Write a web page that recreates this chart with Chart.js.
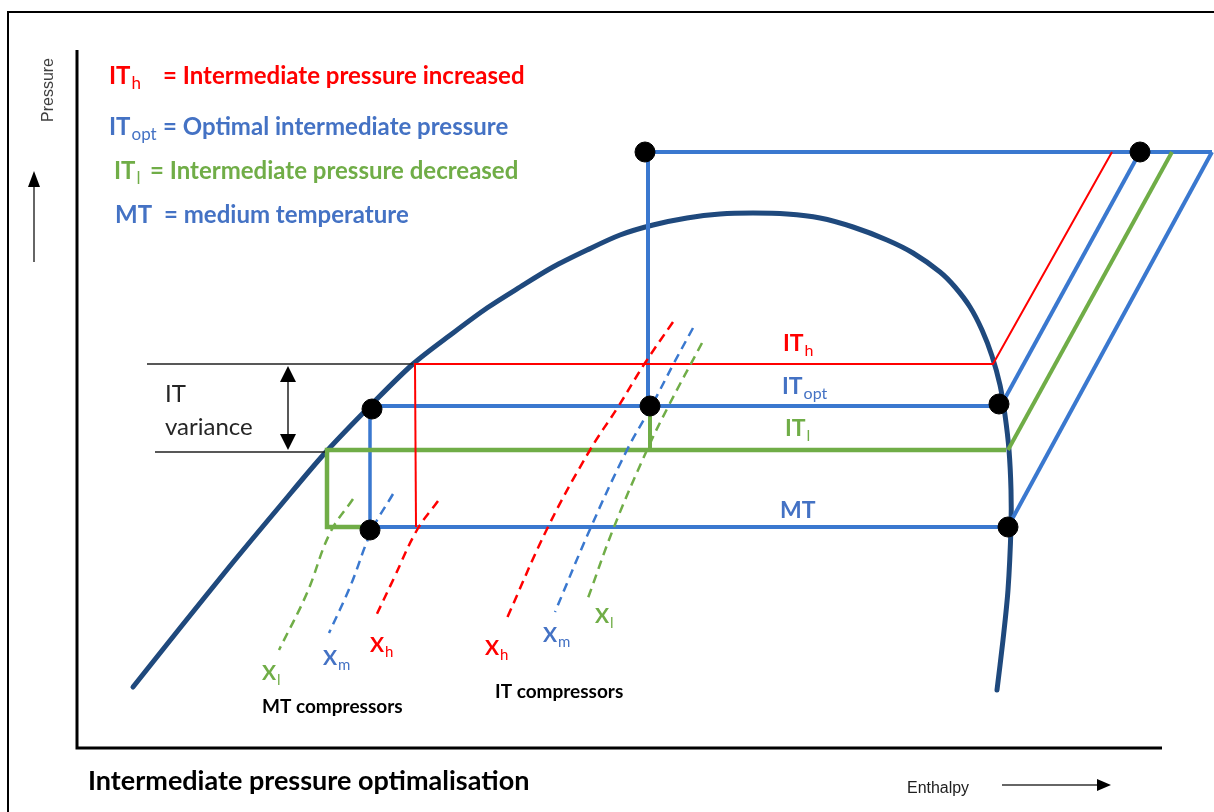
<!DOCTYPE html>
<html>
<head>
<meta charset="utf-8">
<title>Intermediate pressure optimalisation</title>
<script src="https://cdn.jsdelivr.net/npm/chart.js@4.4.1/dist/chart.umd.min.js"></script>
<style>
  html, body { margin: 0; padding: 0; background: #fff; }
  #wrap { width: 1214px; height: 812px; position: relative; }
</style>
</head>
<body>
<div id="wrap"><canvas id="chart"></canvas></div>
<script>
// ==============================
// Data (enthalpy = x, pressure = y)
// ==============================
const levelNames = ["IT_h", "IT_opt", "IT_l", "MT"];
const levelP   = [364, 406, 450, 527];       // pressure of each level
const liquidH  = [414, 371, 325];            // IT levels meet saturated liquid
const vaporH   = [993, 999, 1006, 1008];     // levels meet saturated vapour
const topH     = [1112, 1140, 1172, 1212];   // compressor discharge at high pressure
const highP    = 152;
const valveH   = 648;                        // expansion high pressure -> IT
const mtStartH = 370;

// saturation dome
const domeH = [133, 180, 230, 280, 325, 372, 413, 453, 487, 520, 553, 587, 620, 653, 687, 720, 753, 787, 820, 853, 887, 913, 940, 955, 970, 982, 992, 1000, 1005, 1009, 1011, 1011, 1008, 1003, 997];
const domeP = [687, 628, 566, 506, 453, 404, 364, 333, 308, 287, 267, 250, 235, 225, 218, 214, 213, 214, 218, 227, 240, 253, 272, 287, 307, 330, 356, 385, 415, 450, 490, 527, 590, 640, 690];

// compressor isentropes (dashed)
const mtXl = [[353, 499], [330, 533], [307, 593], [279, 650]];
const mtXm = [[393, 494], [372, 530], [350, 587], [329, 633]];
const mtXh = [[438, 501], [417, 530], [394, 578], [375, 618]];
const itXh = [[673, 322], [645, 363], [618, 407], [590, 450], [548, 527], [507, 618]];
const itXm = [[693, 328], [674, 363], [651, 407], [627, 450], [591, 527], [555, 612]];
const itXl = [[702, 343], [668, 407], [647, 450], [614, 527], [588, 598]];

// state points
const statePoints = [[645, 152], [1140, 152], [372, 409], [650, 406], [999, 404], [370, 530], [1008, 527]];

const RED = "#ff0000", BLUE = "#4472c4", LBLUE = "#3a78cf", GREEN = "#70ad47", NAVY = "#1f497d";

// ==============================
// Datasets
// ==============================
const pts = arr => arr.map(p => ({ x: p[0], y: p[1] }));
function line(data, color, width, order, extra) {
  return Object.assign({ data: pts(data), borderColor: color, borderWidth: width, showLine: true,
    pointRadius: 0, fill: false, tension: 0, order: order }, extra || {});
}
function dashed(data, color) {
  return line(data, color, 2.5, 1, { borderDash: [9, 6], tension: 0.4 });
}

const datasets = [
  { data: pts(statePoints), backgroundColor: "#000", borderColor: "#000", pointRadius: 10, showLine: false, order: 0 },
  dashed(mtXl, GREEN), dashed(mtXm, LBLUE), dashed(mtXh, RED),
  dashed(itXh, RED), dashed(itXm, LBLUE), dashed(itXl, GREEN),
  // IT_h
  line([[liquidH[0], levelP[0]], [vaporH[0], levelP[0]], [topH[0], highP]], RED, 2, 2),
  line([[liquidH[0] + 1, levelP[0]], [liquidH[0] + 2, levelP[3]]], RED, 2, 2),
  // IT_l
  line([[mtStartH, levelP[3]], [liquidH[2] + 2, levelP[3]], [liquidH[2] + 2, levelP[2]], [vaporH[2], levelP[2]]], GREEN, 4.5, 2),
  line([[vaporH[2] + 2, levelP[2]], [topH[2], highP]], GREEN, 4, 2),
  line([[valveH + 2, levelP[1]], [valveH + 2, levelP[2]]], GREEN, 4, 2),
  // IT_opt
  line([[liquidH[1], levelP[1]], [vaporH[1], levelP[1]]], LBLUE, 4, 2),
  line([[liquidH[1] - 1, levelP[1]], [liquidH[1] - 1, levelP[3]]], LBLUE, 3.5, 2),
  line([[vaporH[1] + 5, levelP[1] - 6], [topH[1], highP]], LBLUE, 4, 2),
  // MT
  line([[mtStartH, levelP[3]], [vaporH[3], levelP[3]]], LBLUE, 4, 2),
  line([[vaporH[3] + 2, levelP[3] - 4], [topH[3], highP]], LBLUE, 4, 2),
  // high pressure + valve
  line([[valveH, levelP[1]], [valveH, highP], [topH[3], highP]], LBLUE, 4, 2),
  // dome
  Object.assign(line(domeH.map((h, i) => [h, domeP[i]]), NAVY, 5, 3), { tension: 0.3, borderCapStyle: "round" })
];

// ==============================
// Text and arrows
// ==============================
function arrowHead(ctx, x, y, dir, len, half) {
  ctx.beginPath();
  if (dir === "up")    { ctx.moveTo(x, y); ctx.lineTo(x - half, y + len); ctx.lineTo(x + half, y + len); }
  if (dir === "down")  { ctx.moveTo(x, y); ctx.lineTo(x - half, y - len); ctx.lineTo(x + half, y - len); }
  if (dir === "right") { ctx.moveTo(x, y); ctx.lineTo(x - len, y - half); ctx.lineTo(x - len, y + half); }
  ctx.closePath();
  ctx.fill();
}

function subText(ctx, x, y, main, sub, color, size, mainW) {
  ctx.fillStyle = color;
  ctx.font = `bold ${size}px Lato`;
  ctx.fillText(main, x, y, mainW);
  const w = Math.min(ctx.measureText(main).width, mainW || 1e9);
  ctx.font = `${Math.round(size * 0.7)}px Lato`;
  ctx.fillText(sub, x + w + 1, y + size * 0.22);
}

const decor = {
  id: "decor",
  afterDatasetsDraw(chart) {
    const ctx = chart.ctx;
    const xs = chart.scales.x, ys = chart.scales.y;
    const X = v => xs.getPixelForValue(v), Y = v => ys.getPixelForValue(v);
    ctx.save();
    ctx.textBaseline = "alphabetic";
    ctx.textAlign = "left";

    // frame and axes
    ctx.strokeStyle = "#000";
    ctx.lineWidth = 2;
    ctx.beginPath();
    ctx.moveTo(X(8), Y(812)); ctx.lineTo(X(8), Y(12)); ctx.lineTo(X(1214), Y(12));
    ctx.stroke();
    ctx.lineWidth = 3;
    ctx.beginPath();
    ctx.moveTo(X(77), Y(50)); ctx.lineTo(X(77), Y(748)); ctx.lineTo(X(1162), Y(748));
    ctx.stroke();

    // variance lines
    ctx.lineWidth = 1.5;
    ctx.strokeStyle = "#222";
    ctx.beginPath();
    ctx.moveTo(X(147), Y(levelP[0])); ctx.lineTo(X(413), Y(levelP[0]));
    ctx.moveTo(X(155), Y(452)); ctx.lineTo(X(325), Y(452));
    ctx.moveTo(X(288), Y(378)); ctx.lineTo(X(288), Y(438));
    ctx.stroke();
    ctx.fillStyle = "#000";
    arrowHead(ctx, X(288), Y(366), "up", 16, 8);
    arrowHead(ctx, X(288), Y(450), "down", 16, 8);

    // pressure arrow
    ctx.strokeStyle = "#333";
    ctx.lineWidth = 1.5;
    ctx.beginPath(); ctx.moveTo(X(34), Y(262)); ctx.lineTo(X(34), Y(184)); ctx.stroke();
    arrowHead(ctx, X(34), Y(171), "up", 16, 6);
    // enthalpy arrow
    ctx.beginPath(); ctx.moveTo(X(1002), Y(785)); ctx.lineTo(X(1098), Y(785)); ctx.stroke();
    arrowHead(ctx, X(1111), Y(785), "right", 14, 6);

    // axis labels
    ctx.save();
    ctx.translate(X(53), Y(90));
    ctx.rotate(-Math.PI / 2);
    ctx.textAlign = "center";
    ctx.fillStyle = "#404040";
    ctx.font = "16px 'Liberation Sans'";
    ctx.fillText("Pressure", 0, 0, 76);
    ctx.restore();
    ctx.fillStyle = "#202020";
    ctx.font = "16px 'Liberation Sans'";
    ctx.fillText("Enthalpy", X(907), Y(793), 62);
    ctx.fillStyle = "#000";
    ctx.font = "bold 27px Lato";
    ctx.fillText("Intermediate pressure optimalisation", X(88), Y(790), 453);

    // legend
    subText(ctx, X(109), Y(84), "IT", "h", RED, 24);
    ctx.font = "bold 24px Lato";
    ctx.fillText("= Intermediate pressure increased", X(163), Y(84), 375);
    subText(ctx, X(109), Y(135), "IT", "opt", BLUE, 24);
    ctx.font = "bold 24px Lato";
    ctx.fillText("= Optimal intermediate pressure", X(163), Y(135), 358);
    subText(ctx, X(114), Y(179), "IT", "l", GREEN, 24);
    ctx.font = "bold 24px Lato";
    ctx.fillText("= Intermediate pressure decreased", X(150), Y(179), 385);
    ctx.fillStyle = BLUE;
    ctx.fillText("MT", X(115), Y(223));
    ctx.fillText("= medium temperature", X(164), Y(223), 259);

    // level labels
    subText(ctx, X(783), Y(351), "IT", "h", RED, 23);
    subText(ctx, X(782), Y(394), "IT", "opt", BLUE, 23);
    subText(ctx, X(785), Y(436), "IT", "l", GREEN, 23);
    ctx.fillStyle = BLUE;
    ctx.font = "bold 23px Lato";
    ctx.fillText("MT", X(780), Y(518));

    // IT variance
    ctx.fillStyle = "#262626";
    ctx.font = "24px Lato";
    ctx.fillText("IT", X(165), Y(402));
    ctx.fillText("variance", X(165), Y(435), 90);

    // compressor labels
    subText(ctx, X(262), Y(680), "X", "l", GREEN, 21);
    subText(ctx, X(323), Y(665), "X", "m", BLUE, 21);
    subText(ctx, X(370), Y(652), "X", "h", RED, 21);
    subText(ctx, X(485), Y(655), "X", "h", RED, 21);
    subText(ctx, X(543), Y(642), "X", "m", BLUE, 21);
    subText(ctx, X(595), Y(623), "X", "l", GREEN, 21);
    ctx.fillStyle = "#000";
    ctx.font = "bold 19px Lato";
    ctx.fillText("MT compressors", X(262), Y(713), 148);
    ctx.fillText("IT compressors", X(495), Y(698), 133);

    ctx.restore();
  }
};

// ==============================
// Chart
// ==============================
new Chart(document.getElementById("chart"), {
  type: "scatter",
  data: { datasets },
  options: {
    responsive: true,
    maintainAspectRatio: false,
    animation: false,
    layout: { padding: 0, autoPadding: false },
    plugins: { legend: { display: false }, tooltip: { enabled: false } },
    scales: {
      x: { type: "linear", min: 0, max: 1214, display: false },
      y: { type: "linear", min: 0, max: 812, reverse: true, display: false }
    }
  },
  plugins: [decor]
});
</script>
</body>
</html>
